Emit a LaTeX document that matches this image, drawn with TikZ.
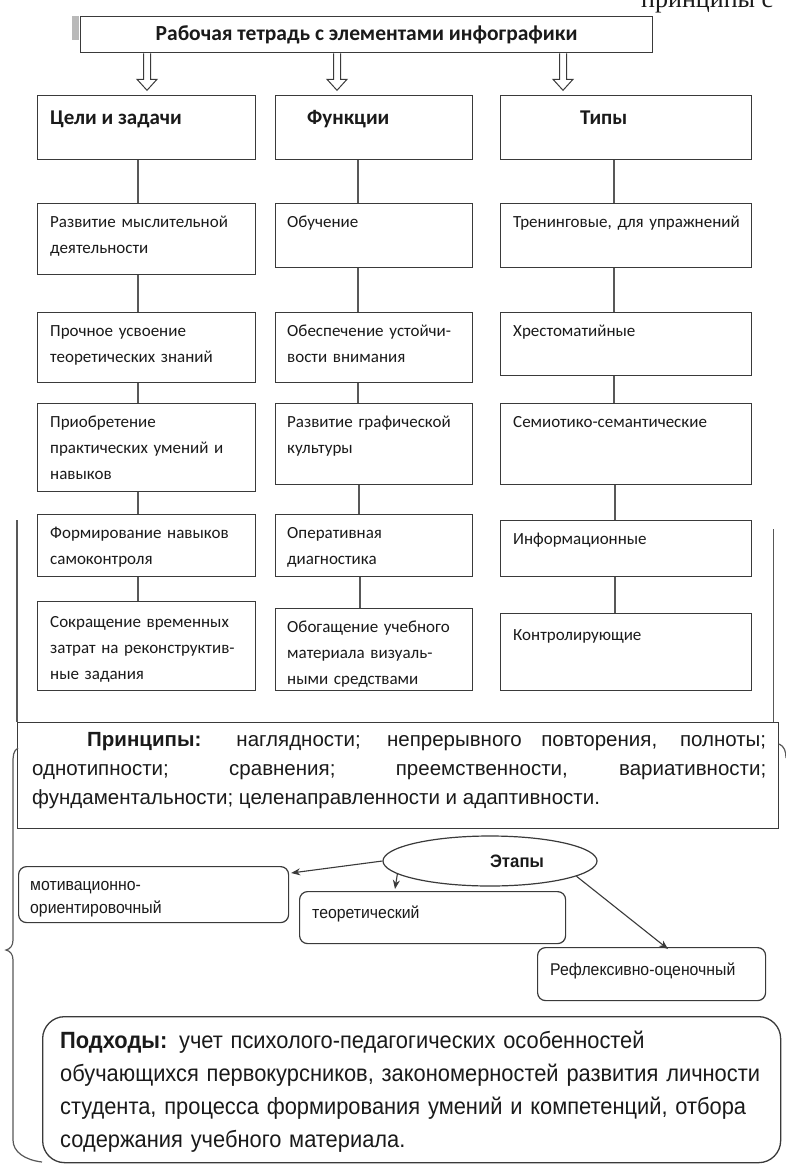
\documentclass[tikz,border=0pt]{standalone}
\usepackage{fontspec}
\setmainfont{Liberation Sans}
\newfontfamily\carlito{Carlito}
\newfontfamily\arialn[FakeStretch=0.93]{Liberation Sans}
\newfontfamily\tnr{Liberation Serif}
\usetikzlibrary{calc,shapes.geometric,arrows.meta}
\definecolor{linec}{HTML}{3A3A3A}
\definecolor{txt}{HTML}{1A1A1A}
\newcommand\cellfont{\carlito\fontsize{17}{26}\selectfont}
\newcommand\headfont{\carlito\bfseries\fontsize{21}{25}\selectfont}
\newcommand\titlefont{\carlito\bfseries\fontsize{21.5}{25}\selectfont}
\newcommand\princfont{\fontsize{20.5}{29}\selectfont\hyphenpenalty=10000\exhyphenpenalty=10000}
\newcommand\apfont{\arialn\fontsize{23.5}{33}\selectfont}
\newcommand\stagefont{\arialn\fontsize{17}{23}\selectfont}
\tikzset{
  cell/.style={draw=linec, line width=1.3pt, rectangle, inner sep=0},
  stage/.style={draw=linec, line width=1.2pt, rectangle, rounded corners=8, inner sep=0},
  celltext/.style={inner sep=0, text width=#1, align=left, font=\cellfont, text=txt},
  celltext/.default=235,
  headtext/.style={inner sep=0, font=\headfont, text=txt},
  stagetext/.style={inner sep=0, text width=250, align=left, font=\stagefont, text=txt},
  conn/.style={draw=linec!85, line width=1.2pt},
  arr/.style={draw=linec, line width=1.1pt, -{Stealth[length=9pt,width=7pt]}},
  hollow/.pic={\draw[linec, line width=1pt, fill=white] (-3.5,0) -- (-3.5,26) -- (-10,26) -- (0,37) -- (10,26) -- (3.5,26) -- (3.5,0);}
}
\newcommand\vlink[3]{\draw[conn] ($(#1.south west)+(#3,0)$) -- ($(#2.north west)+(#3,0)$);}
\begin{document}
\begin{tikzpicture}[x=1pt,y=-1pt]
\useasboundingbox (0,0) rectangle (785,1167);
\fill[white] (0,0) rectangle (785,1167);

% cut-off text at top right
\node[anchor=base west, inner sep=0, font=\tnr\fontsize{26}{30}\selectfont, text=txt] (cut) at (641,8) {принципы с};

% title
\node[cell, minimum width=572, minimum height=36, anchor=north west, font=\titlefont, text=txt] (T) at (80,16) {Рабочая тетрадь с элементами инфографики};
\fill[gray!55] ($(T.north west)+(-8,0)$) rectangle ($(T.north west)+(-1,24)$);
\pic at ($(T.south west)+(67,0)$) {hollow};
\pic at ($(T.south west)+(257,0)$) {hollow};
\pic at ($(T.south west)+(483,0)$) {hollow};

% headers
\node[cell, minimum width=218, minimum height=64, anchor=north west] (H1) at (37,95) {};
\node[headtext, anchor=base west] (H1t) at ($(H1.north west)+(13,29)$) {Цели и задачи};
\node[cell, minimum width=197, minimum height=64, anchor=north west] (H2) at (275,95) {};
\node[headtext, anchor=base west] (H2t) at ($(H2.north west)+(32,29)$) {Функции};
\node[cell, minimum width=251, minimum height=64, anchor=north west] (H3) at (500,95) {};
\node[headtext, anchor=base west] (H3t) at ($(H3.north west)+(80,29)$) {Типы};

% column 1
\node[cell, minimum width=218, minimum height=71, anchor=north west] (A1) at (37,203) {};
\node[celltext, anchor=base west] (A1t) at ($(A1.north west)+(13,24)$) {Развитие мыслительной\\деятельности};
\node[cell, minimum width=218, minimum height=70, anchor=north west] (A2) at (37,312) {};
\node[celltext, anchor=base west] (A2t) at ($(A2.north west)+(13,24)$) {Прочное усвоение\\теоретических знаний};
\node[cell, minimum width=218, minimum height=88, anchor=north west] (A3) at (37,403) {};
\node[celltext, anchor=base west] (A3t) at ($(A3.north west)+(13,24)$) {Приобретение\\практических умений и\\навыков};
\node[cell, minimum width=218, minimum height=62, anchor=north west] (A4) at (37,514) {};
\node[celltext, anchor=base west] (A4t) at ($(A4.north west)+(13,24)$) {Формирование навыков\\самоконтроля};
\node[cell, minimum width=218, minimum height=89, anchor=north west] (A5) at (37,601) {};
\node[celltext, anchor=base west] (A5t) at ($(A5.north west)+(13,26)$) {Сокращение временных\\затрат на реконструктив-\\ные задания};

% column 2
\node[cell, minimum width=197, minimum height=64, anchor=north west] (B1) at (275,203) {};
\node[celltext, anchor=base west] (B1t) at ($(B1.north west)+(12,24)$) {Обучение};
\node[cell, minimum width=197, minimum height=70, anchor=north west] (B2) at (275,312) {};
\node[celltext, anchor=base west] (B2t) at ($(B2.north west)+(12,24)$) {Обеспечение устойчи-\\вости внимания};
\node[cell, minimum width=197, minimum height=81, anchor=north west] (B3) at (275,403) {};
\node[celltext, anchor=base west] (B3t) at ($(B3.north west)+(12,24)$) {Развитие графической\\культуры};
\node[cell, minimum width=197, minimum height=62, anchor=north west] (B4) at (275,514) {};
\node[celltext, anchor=base west] (B4t) at ($(B4.north west)+(12,24)$) {Оперативная\\диагностика};
\node[cell, minimum width=197, minimum height=82, anchor=north west] (B5) at (275,608) {};
\node[celltext, anchor=base west] (B5t) at ($(B5.north west)+(12,24)$) {Обогащение учебного\\материала визуаль-\\ными средствами};

% column 3
\node[cell, minimum width=251, minimum height=64, anchor=north west] (C1) at (500,203) {};
\node[celltext=245, anchor=base west] (C1t) at ($(C1.north west)+(13,24)$) {Тренинговые, для упражнений};
\node[cell, minimum width=251, minimum height=63, anchor=north west] (C2) at (500,312) {};
\node[celltext, anchor=base west] (C2t) at ($(C2.north west)+(13,24)$) {Хрестоматийные};
\node[cell, minimum width=251, minimum height=81, anchor=north west] (C3) at (500,403) {};
\node[celltext, anchor=base west] (C3t) at ($(C3.north west)+(13,24)$) {Семиотико-семантические};
\node[cell, minimum width=251, minimum height=56, anchor=north west] (C4) at (500,520) {};
\node[celltext, anchor=base west] (C4t) at ($(C4.north west)+(13,24)$) {Информационные};
\node[cell, minimum width=251, minimum height=77, anchor=north west] (C5) at (500,613) {};
\node[celltext, anchor=base west] (C5t) at ($(C5.north west)+(13,27)$) {Контролирующие};

% vertical connectors
\vlink{H1}{A1}{101}\vlink{A1}{A2}{101}\vlink{A2}{A3}{101}\vlink{A3}{A4}{101}\vlink{A4}{A5}{101}
\vlink{H2}{B1}{83}\vlink{B1}{B2}{83}\vlink{B2}{B3}{83}\vlink{B3}{B4}{84}\vlink{B4}{B5}{85}
\vlink{H3}{C1}{114}\vlink{C1}{C2}{114}\vlink{C2}{C3}{114}\vlink{C3}{C4}{115}\vlink{C4}{C5}{115}

% principles
\node[cell, minimum width=761, minimum height=106, anchor=north west] (P) at (17,722) {};
\node[inner sep=0, anchor=base west, text width=734, align=justify, font=\princfont, text=txt] (Pt) at ($(P.north west)+(15,24)$)
 {\hspace*{55pt}\textbf{Принципы:} наглядности; непрерывного повторения, полноты;\linebreak однотипности; сравнения; преемственности, вариативности;\linebreak фундаментальности; целенаправленности и адаптивности.};
\draw[conn] ($(P.north west)+(0,-202)$) -- (P.north west);
\draw[conn] ($(P.north east)+(-6,-193)$) -- ($(P.north east)+(-6,0)$);

% stages
\node[ellipse, draw=linec, line width=1.2pt, minimum width=214, minimum height=50, inner sep=0] (E) at (490,861) {};
\node[inner sep=0, font=\arialn\bfseries\fontsize{18}{20}\selectfont, text=txt] (Et) at (517,861) {Этапы};
\node[stage, minimum width=270, minimum height=56, anchor=north west] (S1) at (18,866) {};
\node[stagetext, anchor=base west] (S1t) at ($(S1.north west)+(12,24)$) {мотивационно-\\ориентировочный};
\node[stage, minimum width=266, minimum height=52, anchor=north west] (S2) at (299,891) {};
\node[stagetext, anchor=base west] (S2t) at ($(S2.north west)+(13,27)$) {теоретический};
\node[stage, minimum width=228, minimum height=53, anchor=north west] (S3) at (537,947) {};
\node[stagetext, anchor=base west] (S3t) at ($(S3.north west)+(13,28)$) {Рефлексивно-оценочный};
\draw[arr] (E.west) -- ($(S1.north east)+(2,7)$);
\draw[arr] (E.188.5) -- ($(S2.north west)+(96,-2)$);
\draw[arr] (E.-10) -- ($(S3.north west)+(131,2)$);

% approaches
\node[cell, rounded corners=22, minimum width=738, minimum height=146, anchor=north west] (Ap) at (42,1016) {};
\node[inner sep=0, anchor=base west, text width=725, align=left, font=\apfont, text=txt] (Apt) at ($(Ap.north west)+(18,32)$)
 {\textbf{Подходы:} учет психолого-педагогических особенностей\\обучающихся первокурсников, закономерностей развития личности\\студента, процесса формирования умений и компетенций, отбора\\содержания учебного материала.};

% brace
\draw[conn] (18,748) .. controls (13,751) and (13,756) .. (13,764) -- (13,940) .. controls (13,946) and (10,949) .. (6,950) .. controls (10,951) and (13,954) .. (13,960) -- (13,1140) .. controls (13,1152) and (25,1160) .. (42,1162);
\draw[conn] (779,744) .. controls (784,746) and (786,751) .. (786,758);
\end{tikzpicture}
\end{document}
